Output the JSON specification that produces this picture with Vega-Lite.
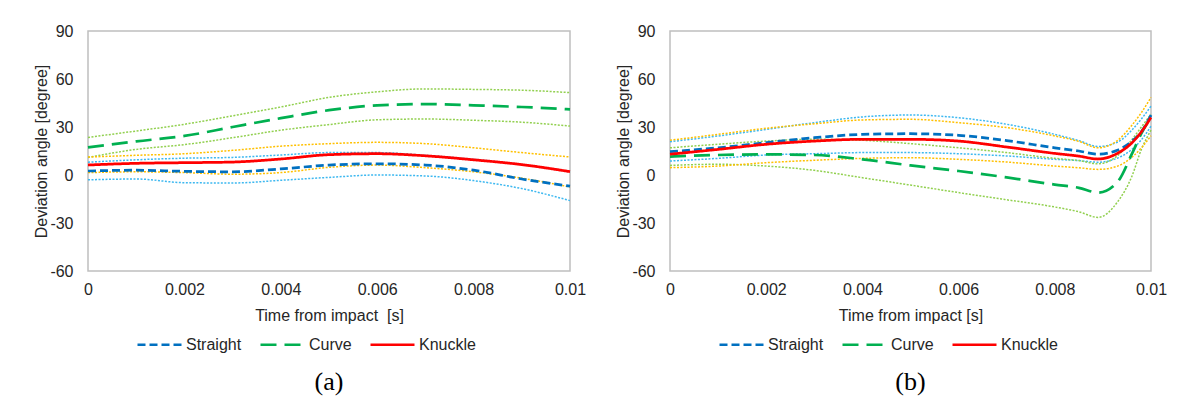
{
  "$schema": "https://vega.github.io/schema/vega-lite/v6.json",
  "padding": {"left": 33, "top": 22, "right": 5, "bottom": 5},
  "background": "white",
  "spacing": 28,
  "resolve": {"scale": {"color": "independent", "strokeDash": "independent"}, "legend": {"color": "independent", "strokeDash": "independent"}},
  "config": {
    "font": "Liberation Sans",
    "view": {"stroke": "#bfbfbf", "strokeWidth": 1.5},
    "axis": {
      "grid": false, "domain": false, "ticks": false, "tickSize": 0,
      "labelFont": "Liberation Sans", "labelFontSize": 16, "labelColor": "#262626",
      "titleFont": "Liberation Sans", "titleFontSize": 16, "titleFontWeight": "normal", "titleColor": "#262626"
    },
    "legend": {
      "labelFont": "Liberation Sans", "labelFontSize": 16, "labelColor": "#262626"
    }
  },
  "datasets": {
    "a": [
      {"t": 0, "series": "Curve", "mean": 17.2, "lo": 11, "hi": 23.5},
      {"t": 0.001, "series": "Curve", "mean": 21, "lo": 16, "hi": 27.5},
      {"t": 0.002, "series": "Curve", "mean": 24.4, "lo": 19, "hi": 31.7},
      {"t": 0.003, "series": "Curve", "mean": 30, "lo": 23.3, "hi": 37},
      {"t": 0.004, "series": "Curve", "mean": 35.5, "lo": 28, "hi": 42.5},
      {"t": 0.005, "series": "Curve", "mean": 40.5, "lo": 31.5, "hi": 48.5},
      {"t": 0.006, "series": "Curve", "mean": 43.5, "lo": 34.5, "hi": 52},
      {"t": 0.007, "series": "Curve", "mean": 44.3, "lo": 35, "hi": 53.8},
      {"t": 0.008, "series": "Curve", "mean": 43.5, "lo": 34.2, "hi": 53.5},
      {"t": 0.009, "series": "Curve", "mean": 42.5, "lo": 33, "hi": 53},
      {"t": 0.01, "series": "Curve", "mean": 41, "lo": 30.6, "hi": 51.5},
      {"t": 0, "series": "Straight", "mean": 2.5, "lo": -3, "hi": 8},
      {"t": 0.001, "series": "Straight", "mean": 3, "lo": -2.5, "hi": 9.5},
      {"t": 0.002, "series": "Straight", "mean": 2.3, "lo": -4.8, "hi": 10.5},
      {"t": 0.003, "series": "Straight", "mean": 2, "lo": -5, "hi": 11},
      {"t": 0.004, "series": "Straight", "mean": 3.8, "lo": -3.3, "hi": 12.5},
      {"t": 0.005, "series": "Straight", "mean": 6.2, "lo": -1.5, "hi": 14},
      {"t": 0.006, "series": "Straight", "mean": 7, "lo": 0, "hi": 14},
      {"t": 0.007, "series": "Straight", "mean": 6.2, "lo": -0.6, "hi": 12.3},
      {"t": 0.008, "series": "Straight", "mean": 3, "lo": -3.5, "hi": 9.8},
      {"t": 0.009, "series": "Straight", "mean": -2.5, "lo": -8.5, "hi": 6.5},
      {"t": 0.01, "series": "Straight", "mean": -7, "lo": -16, "hi": 2},
      {"t": 0, "series": "Knuckle", "mean": 6.25, "lo": 1.5, "hi": 11.25},
      {"t": 0.001, "series": "Knuckle", "mean": 7.3, "lo": 2, "hi": 12.3},
      {"t": 0.002, "series": "Knuckle", "mean": 7.7, "lo": 1.5, "hi": 13.3},
      {"t": 0.003, "series": "Knuckle", "mean": 8.1, "lo": 0.5, "hi": 15.4},
      {"t": 0.004, "series": "Knuckle", "mean": 10, "lo": 1.5, "hi": 18},
      {"t": 0.005, "series": "Knuckle", "mean": 12.7, "lo": 4.8, "hi": 19.6},
      {"t": 0.006, "series": "Knuckle", "mean": 13.3, "lo": 6.2, "hi": 20.4},
      {"t": 0.007, "series": "Knuckle", "mean": 12, "lo": 4.6, "hi": 19.6},
      {"t": 0.008, "series": "Knuckle", "mean": 9.5, "lo": 2, "hi": 17},
      {"t": 0.009, "series": "Knuckle", "mean": 6.5, "lo": -2, "hi": 14},
      {"t": 0.01, "series": "Knuckle", "mean": 2.1, "lo": -7.5, "hi": 11.25}
    ],
    "b": [
      {"t": 0, "series": "Curve", "mean": 11.5, "lo": 6, "hi": 17},
      {"t": 0.001, "series": "Curve", "mean": 12.5, "lo": 6.7, "hi": 19.2},
      {"t": 0.002, "series": "Curve", "mean": 12.9, "lo": 5.6, "hi": 21.2},
      {"t": 0.003, "series": "Curve", "mean": 12.5, "lo": 2.9, "hi": 22.3},
      {"t": 0.004, "series": "Curve", "mean": 9.8, "lo": -1.7, "hi": 21.7},
      {"t": 0.005, "series": "Curve", "mean": 6, "lo": -6.3, "hi": 19.6},
      {"t": 0.006, "series": "Curve", "mean": 2.5, "lo": -11, "hi": 17},
      {"t": 0.007, "series": "Curve", "mean": -1.5, "lo": -15.5, "hi": 14},
      {"t": 0.008, "series": "Curve", "mean": -6, "lo": -20, "hi": 10.4},
      {"t": 0.0085, "series": "Curve", "mean": -8, "lo": -23, "hi": 9},
      {"t": 0.0089, "series": "Curve", "mean": -11, "lo": -26.5, "hi": 7},
      {"t": 0.0093, "series": "Curve", "mean": -4.5, "lo": -17, "hi": 12},
      {"t": 0.0096, "series": "Curve", "mean": 13, "lo": -1, "hi": 22},
      {"t": 0.0098, "series": "Curve", "mean": 26, "lo": 16, "hi": 30},
      {"t": 0.01, "series": "Curve", "mean": 36, "lo": 28, "hi": 38},
      {"t": 0, "series": "Straight", "mean": 14.6, "lo": 8.75, "hi": 20.8},
      {"t": 0.001, "series": "Straight", "mean": 17, "lo": 10.4, "hi": 24.4},
      {"t": 0.002, "series": "Straight", "mean": 20.2, "lo": 12.5, "hi": 28.5},
      {"t": 0.003, "series": "Straight", "mean": 23.3, "lo": 13.3, "hi": 32.7},
      {"t": 0.004, "series": "Straight", "mean": 25.4, "lo": 14, "hi": 36.3},
      {"t": 0.005, "series": "Straight", "mean": 25.8, "lo": 14, "hi": 37.5},
      {"t": 0.006, "series": "Straight", "mean": 24.8, "lo": 13.3, "hi": 35.8},
      {"t": 0.007, "series": "Straight", "mean": 21.5, "lo": 11.9, "hi": 31.7},
      {"t": 0.008, "series": "Straight", "mean": 17, "lo": 9.8, "hi": 25.4},
      {"t": 0.0085, "series": "Straight", "mean": 15, "lo": 9, "hi": 21.5},
      {"t": 0.0089, "series": "Straight", "mean": 13, "lo": 8, "hi": 17.8},
      {"t": 0.0093, "series": "Straight", "mean": 15.5, "lo": 10.5, "hi": 20.5},
      {"t": 0.0096, "series": "Straight", "mean": 21, "lo": 16, "hi": 28},
      {"t": 0.0098, "series": "Straight", "mean": 27, "lo": 22, "hi": 35},
      {"t": 0.01, "series": "Straight", "mean": 37.5, "lo": 30.5, "hi": 43},
      {"t": 0, "series": "Knuckle", "mean": 13, "lo": 4.6, "hi": 21.7},
      {"t": 0.001, "series": "Knuckle", "mean": 16, "lo": 5.6, "hi": 25.4},
      {"t": 0.002, "series": "Knuckle", "mean": 19.2, "lo": 7.7, "hi": 29.2},
      {"t": 0.003, "series": "Knuckle", "mean": 21.2, "lo": 9.2, "hi": 32},
      {"t": 0.004, "series": "Knuckle", "mean": 22.3, "lo": 10.4, "hi": 34.4},
      {"t": 0.005, "series": "Knuckle", "mean": 22.3, "lo": 10.8, "hi": 34.8},
      {"t": 0.006, "series": "Knuckle", "mean": 21.2, "lo": 9.8, "hi": 32.7},
      {"t": 0.007, "series": "Knuckle", "mean": 17.5, "lo": 8.1, "hi": 29.6},
      {"t": 0.008, "series": "Knuckle", "mean": 13.5, "lo": 5.6, "hi": 24.4},
      {"t": 0.0085, "series": "Knuckle", "mean": 11.8, "lo": 4.5, "hi": 21},
      {"t": 0.0089, "series": "Knuckle", "mean": 10, "lo": 3.5, "hi": 17},
      {"t": 0.0093, "series": "Knuckle", "mean": 13.5, "lo": 5.5, "hi": 21.5},
      {"t": 0.0096, "series": "Knuckle", "mean": 20, "lo": 11, "hi": 31},
      {"t": 0.0098, "series": "Knuckle", "mean": 27, "lo": 17, "hi": 39},
      {"t": 0.01, "series": "Knuckle", "mean": 36, "lo": 24.5, "hi": 48.5}
    ]
  },
  "hconcat": [
    {
      "width": 482, "height": 240,
      "data": {"name": "a"},
      "title": {"text": "(a)", "orient": "bottom", "font": "Liberation Serif", "fontSize": 26, "fontWeight": "normal", "color": "#000000", "anchor": "middle", "frame": "group", "offset": 16},
      "encoding": {
        "x": {"field": "t", "type": "quantitative", "title": "Time from impact\u00a0 [s]",
              "scale": {"domain": [0, 0.01], "nice": false, "zero": false},
              "axis": {"values": [0, 0.002, 0.004, 0.006, 0.008, 0.01], "format": "~g", "labelFlush": false, "labelOverlap": false, "labelPadding": 10, "titlePadding": 10}},
        "y": {"field": "value", "type": "quantitative", "title": "Deviation angle [degree]", "scale": {"domain": [-60, 90], "nice": false},
              "axis": {"values": [-60, -30, 0, 30, 60, 90], "labelExpr": "'' + datum.value", "labelPadding": 15, "titlePadding": 0}}
      },
      "layer": [
        {"mark": {"type": "rule", "color": "#c8c8c8", "strokeWidth": 1.5},
         "encoding": {"x": null, "y": {"datum": 0, "type": "quantitative"}}},
        {"transform": [{"filter": "datum.series === 'Straight'"}, {"fold": ["hi", "lo"], "as": ["bound", "value"]}],
         "mark": {"type": "line", "color": "#3DB8F0", "strokeDash": [2, 1.5], "strokeWidth": 1.5, "interpolate": "monotone"},
         "encoding": {"detail": {"field": "bound"}}},
        {"transform": [{"filter": "datum.series === 'Curve'"}, {"fold": ["hi", "lo"], "as": ["bound", "value"]}],
         "mark": {"type": "line", "color": "#92D050", "strokeDash": [2, 1.5], "strokeWidth": 1.5, "interpolate": "monotone"},
         "encoding": {"detail": {"field": "bound"}}},
        {"transform": [{"filter": "datum.series === 'Knuckle'"}, {"fold": ["hi", "lo"], "as": ["bound", "value"]}],
         "mark": {"type": "line", "color": "#FFC000", "strokeDash": [2, 1.5], "strokeWidth": 1.5, "interpolate": "monotone"},
         "encoding": {"detail": {"field": "bound"}}},
        {"transform": [{"fold": ["mean"], "as": ["stat", "value"]}],
         "mark": {"type": "line", "strokeWidth": 2.75, "interpolate": "monotone"},
         "encoding": {
           "color": {"field": "series", "type": "nominal", "scale": {"domain": ["Straight", "Curve", "Knuckle"], "range": ["#0070C0", "#00B050", "#FF0000"]},
                     "legend": {"orient": "none", "legendX": 48, "legendY": 290, "direction": "horizontal", "title": null, "symbolType": "stroke", "symbolSize": 1936, "symbolStrokeWidth": 2.5, "labelOffset": 3, "columnPadding": 13}},
           "strokeDash": {"field": "series", "type": "nominal", "scale": {"domain": ["Straight", "Curve", "Knuckle"], "range": [[8, 4], [16, 8], [1, 0]]}}}}
      ]
    },
    {
      "width": 481, "height": 240,
      "data": {"name": "b"},
      "title": {"text": "(b)", "orient": "bottom", "font": "Liberation Serif", "fontSize": 26, "fontWeight": "normal", "color": "#000000", "anchor": "middle", "frame": "group", "offset": 16},
      "encoding": {
        "x": {"field": "t", "type": "quantitative", "title": "Time from impact [s]",
              "scale": {"domain": [0, 0.01], "nice": false, "zero": false},
              "axis": {"values": [0, 0.002, 0.004, 0.006, 0.008, 0.01], "format": "~g", "labelFlush": false, "labelOverlap": false, "labelPadding": 10, "titlePadding": 10}},
        "y": {"field": "value", "type": "quantitative", "title": "Deviation angle [degree]", "scale": {"domain": [-60, 90], "nice": false},
              "axis": {"values": [-60, -30, 0, 30, 60, 90], "labelExpr": "'' + datum.value", "labelPadding": 15, "titlePadding": 0}}
      },
      "layer": [
        {"mark": {"type": "rule", "color": "#c8c8c8", "strokeWidth": 1.5},
         "encoding": {"x": null, "y": {"datum": 0, "type": "quantitative"}}},
        {"transform": [{"filter": "datum.series === 'Straight'"}, {"fold": ["hi", "lo"], "as": ["bound", "value"]}],
         "mark": {"type": "line", "color": "#3DB8F0", "strokeDash": [2, 1.5], "strokeWidth": 1.5, "interpolate": "monotone"},
         "encoding": {"detail": {"field": "bound"}}},
        {"transform": [{"filter": "datum.series === 'Curve'"}, {"fold": ["hi", "lo"], "as": ["bound", "value"]}],
         "mark": {"type": "line", "color": "#92D050", "strokeDash": [2, 1.5], "strokeWidth": 1.5, "interpolate": "monotone"},
         "encoding": {"detail": {"field": "bound"}}},
        {"transform": [{"filter": "datum.series === 'Knuckle'"}, {"fold": ["hi", "lo"], "as": ["bound", "value"]}],
         "mark": {"type": "line", "color": "#FFC000", "strokeDash": [2, 1.5], "strokeWidth": 1.5, "interpolate": "monotone"},
         "encoding": {"detail": {"field": "bound"}}},
        {"transform": [{"fold": ["mean"], "as": ["stat", "value"]}],
         "mark": {"type": "line", "strokeWidth": 2.75, "interpolate": "monotone"},
         "encoding": {
           "color": {"field": "series", "type": "nominal", "scale": {"domain": ["Straight", "Curve", "Knuckle"], "range": ["#0070C0", "#00B050", "#FF0000"]},
                     "legend": {"orient": "none", "legendX": 48, "legendY": 290, "direction": "horizontal", "title": null, "symbolType": "stroke", "symbolSize": 1936, "symbolStrokeWidth": 2.5, "labelOffset": 3, "columnPadding": 13}},
           "strokeDash": {"field": "series", "type": "nominal", "scale": {"domain": ["Straight", "Curve", "Knuckle"], "range": [[8, 4], [16, 8], [1, 0]]}}}}
      ]
    }
  ]
}
